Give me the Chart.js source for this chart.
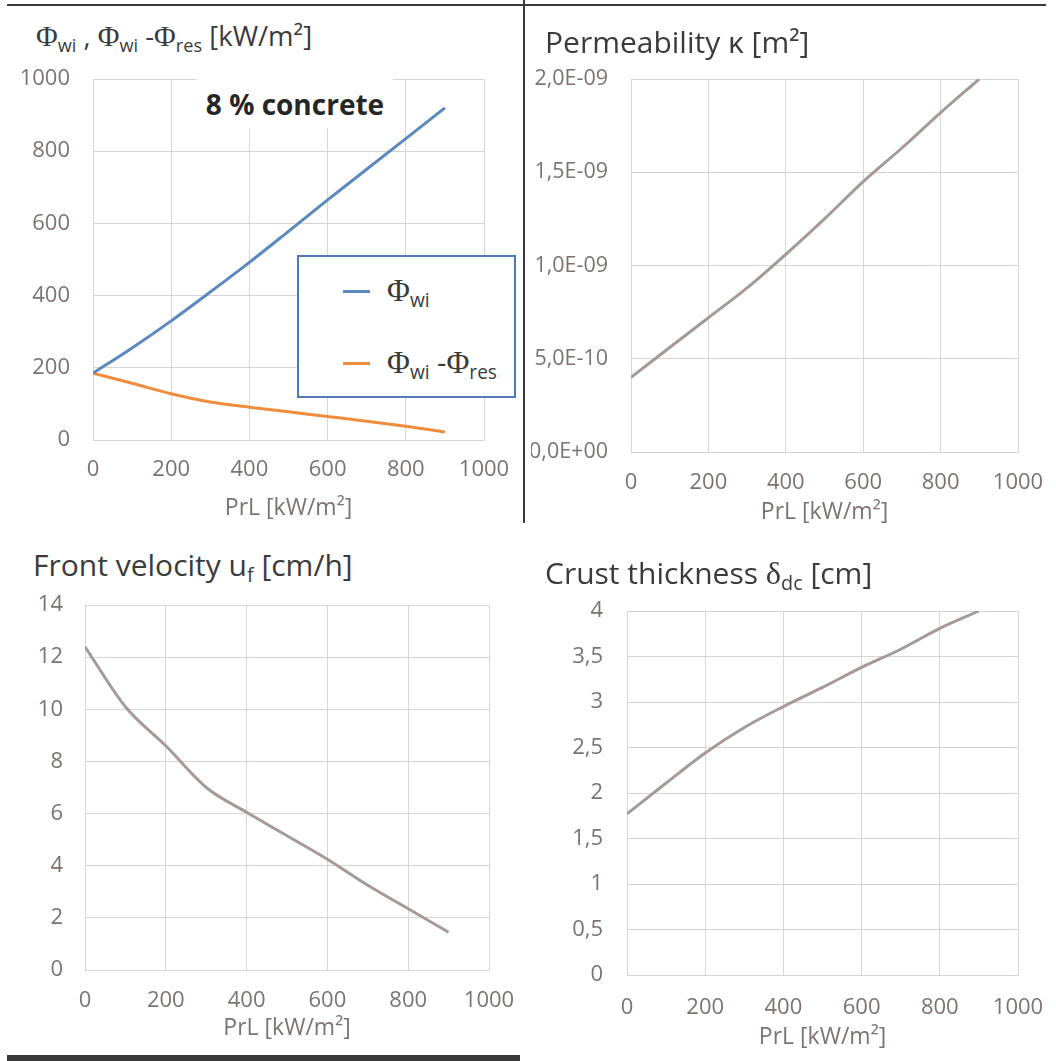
<!DOCTYPE html>
<html>
<head>
<meta charset="utf-8">
<script src="https://cdn.jsdelivr.net/npm/chart.js@4/dist/chart.umd.min.js"></script>
<style>
body{margin:0;background:#fff;font-family:"Open Sans",sans-serif;}
#page{position:relative;width:1056px;height:1061px;overflow:hidden;background:#fff;}
canvas{position:absolute;}
.ttl{position:absolute;color:#3b3b3b;font-size:30px;white-space:nowrap;line-height:1;}
sub{font-size:0.66em;vertical-align:-0.32em;line-height:0;}
.phi{font-family:"Liberation Serif",serif;font-size:1.08em;}
.rule{position:absolute;background:#3a3a3a;}
#tag{position:absolute;left:197px;top:76px;width:196px;height:52px;background:#fff;
  font-weight:bold;font-size:28px;color:#262626;text-align:center;line-height:56px;}
#legend{position:absolute;left:297px;top:255px;width:215px;height:139px;background:#fff;
  border:2px solid #4f7bb5;}
.lg-line{position:absolute;left:44px;width:27px;height:3px;}
.lg-txt{position:absolute;left:88px;font-size:29px;color:#3b3b3b;white-space:nowrap;line-height:1;}
</style>
</head>
<body>
<div id="page">
  <canvas id="c1" width="520" height="470" style="left:0;top:60px"></canvas>
  <canvas id="c2" width="531" height="470" style="left:525px;top:60px"></canvas>
  <canvas id="c3" width="520" height="465" style="left:0;top:590px"></canvas>
  <canvas id="c4" width="531" height="465" style="left:525px;top:590px"></canvas>

  <div class="ttl" style="left:36px;top:22px;font-size:27.5px"><span class="phi">Φ</span><sub>wi</sub> , <span class="phi">Φ</span><sub>wi</sub> -<span class="phi">Φ</span><sub>res</sub> [kW/m²]</div>
  <div class="ttl" style="left:545px;top:27px">Permeability κ [m²]</div>
  <div class="ttl" style="left:33px;top:550px">Front velocity u<sub>f</sub> [cm/h]</div>
  <div class="ttl" style="left:545px;top:557px">Crust thickness <span class="phi">δ</span><sub>dc</sub> [cm]</div>

  <div id="tag">8 % concrete</div>
  <div id="legend"></div>

  <div class="rule" style="left:7px;top:4px;width:1039px;height:2px"></div>
  <div class="rule" style="left:523px;top:0;width:2px;height:523px"></div>
  <div class="rule" style="left:7px;top:1055px;width:513px;height:6px"></div>
</div>
<script>
// PrL [kW/m²]
const prl = [0, 100, 200, 300, 400, 500, 600, 700, 800, 900];

// top left: wall heat flux and net flux
const phiWi  = [185, 255, 330, 410, 492, 578, 665, 750, 835, 920];
const phiNet = [185, 157, 128, 105, 91, 78, 65, 52, 38, 22];

// top right: permeability [m²]
const perm = [4.0e-10, 5.6e-10, 7.2e-10, 8.8e-10, 1.06e-9, 1.25e-9, 1.45e-9, 1.63e-9, 1.82e-9, 2.0e-9];

// bottom left: front velocity [cm/h]
const velocity = [12.4, 10.1, 8.6, 7.0, 6.05, 5.15, 4.25, 3.25, 2.35, 1.45];

// bottom right: crust thickness [cm]
const crust = [1.77, 2.11, 2.44, 2.72, 2.95, 3.16, 3.38, 3.58, 3.81, 4.0];

const legendLabels = [
  '<span class="phi">Φ</span><sub>wi</sub>',
  '<span class="phi">Φ</span><sub>wi</sub> -<span class="phi">Φ</span><sub>res</sub>'
];

const GRID = "#dad4d4";
const TICK = "#7d7272";
const BLUE = "#5b88bf";
const ORANGE = "#f08c3e";
const GREY = "#a69999";
const X_TITLE = "PrL [kW/m²]";

Chart.defaults.font.family = '"Open Sans", sans-serif';
Chart.defaults.color = TICK;

function qs(id){ return document.getElementById(id); }

function pts(ys){ return prl.map((x, i) => ({x, y: ys[i]})); }

function sci(v){
  if(v === 0) return "0,0E+00";
  const [m, e] = v.toExponential(1).split("e");
  const n = parseInt(e, 10);
  return m.replace(".", ",") + "E" + (n < 0 ? "-" : "+") + String(Math.abs(n)).padStart(2, "0");
}

function comma(v){ return String(v).replace(".", ","); }

function line(data, color){
  return {data: pts(data), borderColor: color, borderWidth: 3, pointRadius: 0,
          cubicInterpolationMode: "monotone", fill: false};
}

// nudge layout padding until the plot area sits where the page wants it
function place(chart, want){
  const cv = chart.canvas;
  const cl = parseFloat(cv.style.left) || 0, ct = parseFloat(cv.style.top) || 0;
  const p = chart.config.options.layout.padding;
  for(let k = 0; k < 6; k++){
    const a = chart.chartArea;
    p.top    += want.top - (ct + a.top);
    p.left   += want.left - (cl + a.left);
    p.right  += (cl + a.right) - want.right;
    p.bottom += (ct + a.bottom) - want.bottom;
    chart.update();
  }
}

// label gaps come from invisible tick marks, so they don't widen the layout padding
const HIDDEN = "rgba(0,0,0,0)";

function makeChart(id, datasets, box, y){
  const chart = new Chart(qs(id), {
    type: "line",
    data: {datasets},
    options: {
      responsive: false,
      animation: false,
      layout: {padding: {top: 20, right: 30, left: 4, bottom: 2}},
      plugins: {legend: {display: false}, tooltip: {enabled: false}},
      scales: {
        x: {
          type: "linear", min: 0, max: 1000,
          ticks: {stepSize: 200, padding: 0, font: {size: 22}, color: TICK,
                  callback: v => String(v)},
          grid: {color: GRID, tickLength: box.xPad, tickColor: HIDDEN},
          border: {color: GRID},
          title: {display: true, text: X_TITLE, font: {size: 23}, color: TICK,
                  padding: {top: 0, bottom: 2}},
          afterFit: s => { s.height = box.xh; }
        },
        y: {
          type: "linear", min: y.min, max: y.max,
          ticks: {stepSize: y.step, padding: 0, font: {size: y.size || 22}, color: TICK,
                  callback: y.fmt},
          grid: {color: GRID, tickLength: box.yPad, tickColor: HIDDEN},
          border: {color: GRID},
          afterFit: s => { s.width = box.yw; }
        }
      }
    }
  });
  place(chart, box.plot);
  return chart;
}

const c1 = makeChart("c1",
  [line(phiWi, BLUE), line(phiNet, ORANGE)],
  {plot: {left: 93, top: 79, right: 484, bottom: 440}, yw: 86, xh: 84, yPad: 23, xPad: 17},
  {min: 0, max: 1000, step: 200, fmt: v => String(v)});

makeChart("c2", [line(perm, GREY)],
  {plot: {left: 631, top: 79, right: 1018, bottom: 452}, yw: 100, xh: 76, yPad: 23, xPad: 18},
  {min: 0, max: 2e-9, step: 5e-10, fmt: sci, size: 21.5});

makeChart("c3", [line(velocity, GREY)],
  {plot: {left: 85, top: 605, right: 489, bottom: 970}, yw: 78, xh: 74, yPad: 22, xPad: 18},
  {min: 0, max: 14, step: 2, fmt: v => String(v)});

makeChart("c4", [line(crust, GREY)],
  {plot: {left: 627, top: 611, right: 1018, bottom: 975}, yw: 96, xh: 78, yPad: 24, xPad: 20},
  {min: 0, max: 4, step: 0.5, fmt: comma});

// legend for the first chart, built from its datasets
const rowTops = [35, 107];
qs("legend").innerHTML = c1.data.datasets.map((ds, i) =>
  `<div class="lg-line" style="top:${rowTops[i] - 2}px;background:${ds.borderColor}"></div>` +
  `<div class="lg-txt" style="top:${rowTops[i] - 17}px">${legendLabels[i]}</div>`
).join("");
</script>
</body>
</html>
